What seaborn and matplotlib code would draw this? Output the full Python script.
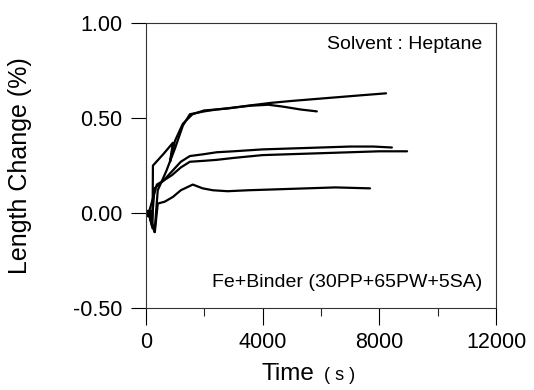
import pandas as pd
import seaborn as sns
import matplotlib.pyplot as plt
from matplotlib.ticker import MultipleLocator

# values (time in s, length change in %)
run_a_time = [100, 230, 245, 600, 930, 830, 1000, 1270, 1600, 2000, 2800, 3500, 4300, 5000, 5800, 6600, 7400, 8230]
run_a_len = [0.00, -0.08, 0.25, 0.31, 0.37, 0.27, 0.38, 0.47, 0.52, 0.54, 0.55, 0.565, 0.58, 0.59, 0.60, 0.61, 0.62, 0.63]

run_b_time = [100, 300, 410, 700, 1000, 1270, 1510, 2000, 2430, 3000, 3600, 4200, 4700, 5300, 5860]
run_b_len = [0.00, -0.10, 0.12, 0.22, 0.34, 0.46, 0.52, 0.535, 0.545, 0.555, 0.565, 0.57, 0.56, 0.545, 0.535]

run_c_time = [100, 200, 300, 600, 900, 1200, 1510, 2000, 2430, 3000, 4000, 5000, 6000, 7000, 7800, 8430]
run_c_len = [0.00, -0.06, 0.13, 0.17, 0.22, 0.27, 0.30, 0.31, 0.32, 0.325, 0.335, 0.34, 0.345, 0.35, 0.35, 0.345]

run_d_time = [100, 380, 600, 900, 1200, 1510, 2000, 2430, 3000, 4000, 5000, 6000, 7000, 8000, 8950]
run_d_len = [0.00, 0.15, 0.17, 0.20, 0.24, 0.27, 0.275, 0.28, 0.29, 0.305, 0.31, 0.315, 0.32, 0.325, 0.325]

run_e_time = [100, 310, 410, 650, 930, 1200, 1610, 1950, 2300, 2800, 3500, 4500, 5500, 6500, 7680]
run_e_len = [0.00, -0.10, 0.05, 0.06, 0.085, 0.12, 0.15, 0.13, 0.12, 0.115, 0.12, 0.125, 0.13, 0.135, 0.13]

runs = {"A": (run_a_time, run_a_len), "B": (run_b_time, run_b_len),
        "C": (run_c_time, run_c_len), "D": (run_d_time, run_d_len),
        "E": (run_e_time, run_e_len)}

frames = []
for name, (t, v) in runs.items():
    frames.append(pd.DataFrame({"time": t, "length": v, "run": name}))
df = pd.concat(frames, ignore_index=True)

sns.set_style("ticks")
plt.rcParams["font.family"] = ["Liberation Sans", "DejaVu Sans"]
plt.rcParams["text.color"] = "black"
plt.rcParams["axes.labelcolor"] = "black"

fig = plt.figure(figsize=(5.34, 3.9), dpi=100)
ax = fig.add_axes([0.273, 0.210, 0.656, 0.731])

sns.lineplot(data=df, x="time", y="length", hue="run", palette=["black"] * 5,
             sort=False, estimator=None, linewidth=1.6, legend=False, ax=ax)
ax.plot([100], [0.0], "s", color="black", markersize=4)

ax.set_xlim(0, 12000)
ax.set_ylim(-0.5, 1.0)
ax.xaxis.set_major_locator(MultipleLocator(4000))
ax.xaxis.set_minor_locator(MultipleLocator(2000))
ax.yaxis.set_major_locator(MultipleLocator(0.5))
ax.set_yticklabels([f"{v:.2f}" for v in ax.get_yticks()])

ax.tick_params(axis="both", labelsize=15.5, colors="black", width=0.8)
ax.tick_params(axis="x", which="major", length=12, pad=5)
ax.tick_params(axis="x", which="minor", length=6, width=0.8)
ax.tick_params(axis="y", which="major", length=11, pad=6)
for s in ax.spines.values():
    s.set_linewidth(0.8)
    s.set_color("0.2")

ax.set_xlabel("")
ax.set_ylabel("Length Change (%)", fontsize=18)
ax.yaxis.set_label_coords(-0.326, 0.5)

fig.text(262 / 534, 1 - 380 / 390, "Time", fontsize=17.5, ha="left", va="baseline")
fig.text(324 / 534, 1 - 380 / 390, "( s )", fontsize=13, ha="left", va="baseline")

ax.text(0.96, 0.923, "Solvent : Heptane", transform=ax.transAxes,
        ha="right", va="center", fontsize=14)
ax.text(0.96, 0.091, "Fe+Binder (30PP+65PW+5SA)", transform=ax.transAxes,
        ha="right", va="center", fontsize=14)

fig.savefig("out.png", dpi=100)
